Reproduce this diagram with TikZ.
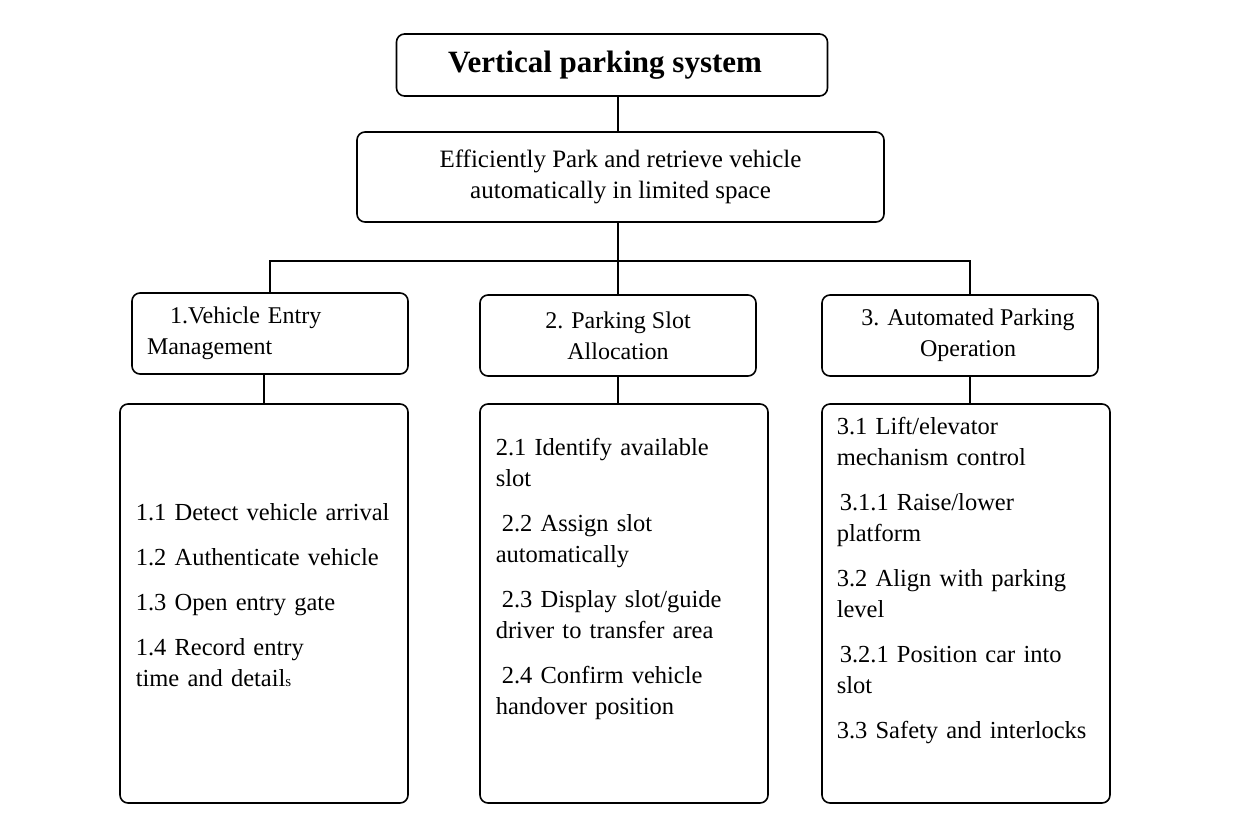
\documentclass[tikz,border=0pt]{standalone}
\usepackage{fontspec}
\setmainfont{Liberation Serif}
\usetikzlibrary{positioning}

\begin{document}
\begin{tikzpicture}[
      x=1pt, y=-1pt,
      line width=1.6pt,
      box/.style={draw, rounded corners=8pt, inner sep=0pt},
      head/.style={box, minimum width=276pt, minimum height=81pt,
        align=center, font=\fontsize{24}{31}\selectfont},
      list/.style={box, minimum width=288pt, minimum height=399pt},
      item/.style={anchor=base west, inner sep=0pt, text width=272pt,
        align=left, font=\fontsize{24.5}{31}\selectfont}
    ]
    \useasboundingbox (0,0) rectangle (1237,823);
    % top levels
    \node (top) [box, minimum width=431pt, minimum height=62pt,
      font=\bfseries\fontsize{31}{34}\selectfont] at (612,65)
      {Vertical parking system\hspace*{14pt}};
    \node (goal) [box, minimum width=527pt, minimum height=90pt, align=center,
      font=\fontsize{25}{31}\selectfont] at (620.5,177)
      {Efficiently Park and retrieve vehicle\\automatically in limited space};
    % functions
    \node (head1) [head, align=left, text width=276pt] at (270,333.5)
      {\hspace*{38pt}1.Vehicle Entry\\\hspace*{15pt}Management};
    \node (head2) [head] at (618,335.5) {2. Parking Slot\\Allocation};
    \node (head3) [head] at (960,335.5)
      {\hspace*{16pt}3. Automated Parking\\\hspace*{16pt}Operation};
    % sub-functions
    \node (list1) [list] at (264,603.5) {};
    \node (list2) [list] at (624,603.5) {};
    \node (list3) [list] at (966,603.5) {};
    \node (items1) [item] at (135,520)
      {1.1 Detect vehicle arrival\\[14pt]
       1.2 Authenticate vehicle\\[14pt]
       1.3 Open entry gate\\[14pt]
       1.4 Record entry\\time and detail{\fontsize{15}{31}\selectfont s}};
    \node (items2) [item] at (495,455)
      {2.1 Identify available\\slot\\[14pt]
       \hspace*{6pt}2.2 Assign slot\\automatically\\[14pt]
       \hspace*{6pt}2.3 Display slot/guide\\driver to transfer area\\[14pt]
       \hspace*{6pt}2.4 Confirm vehicle\\handover position};
    \node (items3) [item] at (836,434)
      {3.1 Lift/elevator\\mechanism control\\[14pt]
       \hspace*{3pt}3.1.1 Raise/lower\\platform\\[14pt]
       3.2 Align with parking\\level\\[14pt]
       \hspace*{3pt}3.2.1 Position car into\\slot\\[14pt]
       3.3 Safety and interlocks};
    % connectors
    \coordinate (fork) at (618,261);
    \draw (fork |- top.south) -- (fork |- goal.north);
    \draw (goal.south -| fork) -- (fork);
    \draw (head1.north) |- (fork) -| ([xshift=10pt]head3.north);
    \draw (head2.north) -- (head2.north |- fork);
    \draw (list1.north) -- (list1.north |- head1.south);
    \draw (head2.south) -- (head2.south |- list2.north);
    \draw ([xshift=10pt]head3.south) -- ([xshift=10pt]head3.south |- list3.north);
  \end{tikzpicture}
\end{document}
